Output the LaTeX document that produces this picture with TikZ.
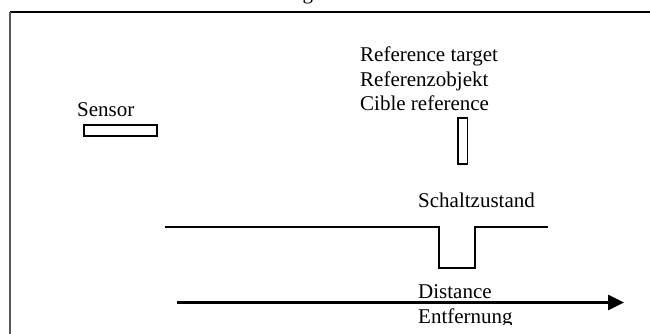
\documentclass[tikz,border=0pt]{standalone}
\usepackage{fontspec}
\setmainfont{Liberation Serif}
\usetikzlibrary{arrows.meta}
\begin{document}
\begin{tikzpicture}[x=1pt,y=-1pt,
  lbl/.style={anchor=base west,inner sep=0pt,font=\fontsize{21}{24}\selectfont},
  boxshape/.style={draw,line width=1.8pt,inner sep=0pt,anchor=north west},
  thick line/.style={line width=2pt},
  axis/.style={line width=2.6pt,-{Triangle[length=16pt,width=15pt]}}]
\useasboundingbox (0,0) rectangle (650,334);
% frame
\draw[line width=2pt] (651,12) -- (10,12);
\draw[line width=1.8pt,black!65] (10,12) -- (10,335);
% cut title fragment
\node[lbl] (title) at (302.5,-0.8) {g};
% sensor
\node[lbl] (sensorlbl) at (77,117) {Sensor};
\node[boxshape,minimum width=73pt,minimum height=11pt] (sensor) at (83,124) {};
% reference target
\node[lbl] (reflbla) at (360,62) {Reference target};
\node[lbl] (reflblb) at (360,86.5) {Referenzobjekt};
\node[lbl] (reflblc) at (360,111) {Cible reference};
\node[boxshape,minimum width=9.5pt,minimum height=46pt] (target) at (457,117) {};
% switching state
\node[lbl] (statelbl) at (418,207) {Schaltzustand};
\coordinate (s0) at (165,227);
\coordinate (s1) at (438.5,227);
\coordinate (s2) at (438.5,268);
\coordinate (s3) at (475,268);
\coordinate (s4) at (475,227);
\coordinate (s5) at (548,227);
\draw[thick line] (s0) -- (s1) -- (s2) -- (s3) -- (s4) -- (s5);
% distance axis
\coordinate (a0) at (177,302.5);
\coordinate (a1) at (624,302.5);
\draw[axis] (a0) -- (a1);
\node[lbl] (distlbl) at (418,298) {Distance};
\begin{scope}
\clip (400,305) rectangle (560,324);
\node[lbl] (entlbl) at (418,323) {Entfernung};
\end{scope}
\end{tikzpicture}
\end{document}
